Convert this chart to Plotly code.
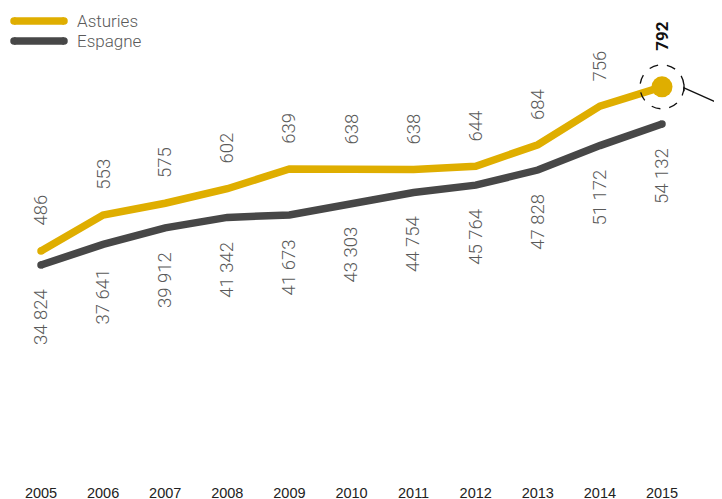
import plotly.graph_objects as go

years = [2005, 2006, 2007, 2008, 2009, 2010, 2011, 2012, 2013, 2014, 2015]
asturies = [486, 553, 575, 602, 639, 638, 638, 644, 684, 756, 792]
espagne = [34824, 37641, 39912, 41342, 41673, 43303, 44754, 45764, 47828, 51172, 54132]
series_names = ["Asturies", "Espagne"]

YELLOW = "#DFAE00"
DARK = "#474747"
LABEL = "#5a5a5a"
FONT = "Roboto"

# page body has an 8px margin; the figure is sized to fill the rest of the window
W, H = 714, 491
B = 17
PH = H - B

fig = go.Figure()

fig.add_trace(go.Scatter(x=years, y=asturies, mode="lines", name=series_names[0],
                         line=dict(color=YELLOW, width=7.5), yaxis="y", showlegend=False,
                         hoverinfo="skip"))
fig.add_trace(go.Scatter(x=years, y=espagne, mode="lines", name=series_names[1],
                         line=dict(color=DARK, width=7.5), yaxis="y2", showlegend=False,
                         hoverinfo="skip"))
# round caps / end point marker
fig.add_trace(go.Scatter(x=[years[0], years[-1]], y=[asturies[0], asturies[-1]], mode="markers",
                         marker=dict(color=YELLOW, size=[7.5, 21], opacity=1, line=dict(width=0)),
                         yaxis="y", showlegend=False, hoverinfo="skip"))
fig.add_trace(go.Scatter(x=[years[0], years[-1]], y=[espagne[0], espagne[-1]], mode="markers",
                         marker=dict(color=DARK, size=[7.5, 7.5], opacity=1, line=dict(width=0)),
                         yaxis="y2", showlegend=False, hoverinfo="skip"))

ann = []
for i, (yr, v) in enumerate(zip(years, asturies)):
    last = i == len(years) - 1
    ann.append(dict(x=yr, y=v, xref="x", yref="y", text=(f"<b>{v}</b>" if last else str(v)),
                    showarrow=False, textangle=-90, xanchor="center", yanchor="bottom",
                    yshift=34 if last else 23,
                    font=dict(family=FONT, size=17 if last else 18.5, color="#111" if last else LABEL,
                              weight=700 if last else 300)))
for yr, v in zip(years, espagne):
    ann.append(dict(x=yr, y=v, xref="x", yref="y2", text=f"{v:,}".replace(",", " "),
                    showarrow=False, textangle=-90, xanchor="center", yanchor="top",
                    yshift=-22,
                    font=dict(family=FONT, size=18.5, color=LABEL, weight=300)))

# legend (manual)
shapes = []
for k, (name, col, py) in enumerate([(series_names[0], YELLOW, 13), (series_names[1], DARK, 33)]):
    yp = 1 - py / PH
    shapes.append(dict(type="line", xref="paper", yref="paper", x0=6 / W, x1=56 / W, y0=yp, y1=yp,
                       line=dict(color=col, width=7.5)))
    for cx in (6, 56):
        shapes.append(dict(type="circle", xref="paper", yref="paper", xsizemode="pixel",
                           ysizemode="pixel", xanchor=cx / W, yanchor=yp, x0=-3.75, x1=3.75,
                           y0=-3.75, y1=3.75, fillcolor=col, line=dict(width=0)))
    ann.append(dict(x=67 / W, y=yp, xref="paper", yref="paper", text=name, showarrow=False,
                    xanchor="left", yanchor="middle",
                    font=dict(family=FONT, size=17, color=LABEL, weight=300)))

# dashed highlight circle and leader line
shapes.append(dict(type="circle", xref="x", yref="y", xsizemode="pixel", ysizemode="pixel",
                   xanchor=years[-1], yanchor=asturies[-1], x0=-22, x1=22, y0=-22, y1=22,
                   line=dict(color="#111", width=1.3, dash="dash")))
shapes.append(dict(type="line", xref="x", yref="y", xsizemode="pixel", ysizemode="pixel",
                   xanchor=years[-1], yanchor=asturies[-1], x0=22, x1=70, y0=-1, y1=-22.5,
                   line=dict(color="#111", width=1.3)))
shapes.append(dict(type="line", xref="x", yref="y", xsizemode="pixel", ysizemode="pixel",
                   xanchor=years[-1], yanchor=asturies[-1], x0=22, x1=22, y0=2.5, y1=-4.5,
                   line=dict(color="#111", width=1.3)))

fig.update_layout(
    width=W, height=H,
    margin=dict(l=0, r=0, t=0, b=B, autoexpand=False),
    paper_bgcolor="white", plot_bgcolor="white",
    showlegend=False,
    xaxis=dict(range=[2005 - 33 / 62.1, 2015 + 60 / 62.1], tickvals=years,
               ticktext=[str(y) for y in years], showgrid=False, zeroline=False,
               showline=False, ticks="", automargin=False,
               tickfont=dict(family="Liberation Sans", size=14.5, color="#222")),
    yaxis=dict(range=[55.4, 938.9], visible=False, fixedrange=True),
    yaxis2=dict(range=[5108, 70016], visible=False, overlaying="y"),
    annotations=ann,
    shapes=shapes,
)

fig.write_html("out.html")
